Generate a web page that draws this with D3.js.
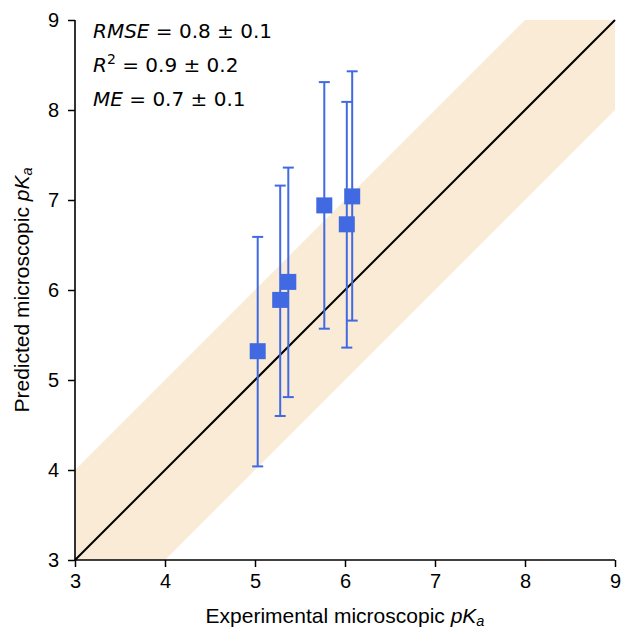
<!DOCTYPE html>
<html>
<head>
<meta charset="utf-8">
<script src="https://cdn.jsdelivr.net/npm/d3@7"></script>
<style>
body { margin: 0; background: #fff; }
</style>
</head>
<body>
<div id="chart"></div>
<script>
// experimental vs predicted microscopic pKa
var expPka = [5.03, 5.28, 5.37, 5.77, 6.02, 6.08];
var predPka = [5.32, 5.89, 6.09, 6.94, 6.73, 7.04];
var predUpper = [6.59, 7.16, 7.36, 8.31, 8.09, 8.43];
var predLower = [4.04, 4.60, 4.81, 5.57, 5.36, 5.66];
var ticks = [3, 4, 5, 6, 7, 8, 9];

var margin = {top: 20, right: 7, bottom: 68, left: 75},
    width = 622 - margin.left - margin.right,
    height = 628 - margin.top - margin.bottom;

var svg = d3.select("#chart")
  .append("svg")
  .attr("width", 622)
  .attr("height", 628)
  .append("g")
  .attr("transform", "translate(" + margin.left + "," + margin.top + ")");

var x = d3.scaleLinear().domain([3, 9]).range([0, width]);
var y = d3.scaleLinear().domain([3, 9]).range([height, 0]);

svg.append("clipPath").attr("id", "clip")
  .append("rect").attr("width", width).attr("height", height);

// +/- 1 band around the diagonal
var area = d3.area()
  .x(function(d) { return x(d); })
  .y0(function(d) { return y(d - 1); })
  .y1(function(d) { return y(d + 1); });

svg.append("path")
  .datum([2, 10])
  .attr("clip-path", "url(#clip)")
  .attr("d", area)
  .attr("fill", "#faebd7");

svg.append("line")
  .attr("x1", x(3)).attr("y1", y(3))
  .attr("x2", x(9)).attr("y2", y(9))
  .attr("stroke", "#000")
  .attr("stroke-width", 2);

var data = expPka.map(function(d, i) {
  return {x: d, y: predPka[i], hi: predUpper[i], lo: predLower[i]};
});

var blue = "#4169e1";
var bars = svg.append("g");
bars.selectAll(".err")
  .data(data).enter().append("line")
  .attr("x1", function(d) { return x(d.x); })
  .attr("x2", function(d) { return x(d.x); })
  .attr("y1", function(d) { return y(d.lo); })
  .attr("y2", function(d) { return y(d.hi); })
  .attr("stroke", blue).attr("stroke-width", 2);

["hi", "lo"].forEach(function(k) {
  bars.selectAll(".cap" + k)
    .data(data).enter().append("line")
    .attr("x1", function(d) { return x(d.x) - 5.5; })
    .attr("x2", function(d) { return x(d.x) + 5.5; })
    .attr("y1", function(d) { return y(d[k]); })
    .attr("y2", function(d) { return y(d[k]); })
    .attr("stroke", blue).attr("stroke-width", 2);
});

svg.selectAll(".pt")
  .data(data).enter().append("rect")
  .attr("x", function(d) { return x(d.x) - 8; })
  .attr("y", function(d) { return y(d.y) - 8; })
  .attr("width", 16).attr("height", 16)
  .attr("fill", blue);

var font = "Liberation Sans, Arial, sans-serif";

var xAxis = svg.append("g")
  .attr("transform", "translate(0," + height + ")")
  .call(d3.axisBottom(x).tickValues(ticks).tickSize(7).tickPadding(7).tickFormat(d3.format("d")));
var yAxis = svg.append("g")
  .call(d3.axisLeft(y).tickValues(ticks).tickSize(7).tickPadding(9).tickFormat(d3.format("d")));

[xAxis, yAxis].forEach(function(a) {
  a.selectAll("path").attr("stroke-width", 1.6).attr("d", a === xAxis ? "M0,0H" + width : "M0,0V" + height);
  a.selectAll("line").attr("stroke-width", 1.5);
  a.selectAll("text").attr("font-family", font)
    .attr("font-size", "20px").attr("fill", "#000");
});

function axisLabel(t, words) {
  t.attr("text-anchor", "middle")
    .attr("font-family", font)
    .attr("font-size", "21px");
  t.append("tspan").text(words);
  t.append("tspan").attr("font-style", "italic").text("pK");
  t.append("tspan").attr("font-style", "italic").attr("font-size", "14.5px").attr("dy", 3).text("a");
}

axisLabel(svg.append("text").attr("x", width / 2).attr("y", 603),
  "Experimental microscopic ");
axisLabel(svg.append("text").attr("transform", "translate(-46," + (height / 2) + ") rotate(-90)"),
  "Predicted microscopic ");

// stats box
var stats = [
  {name: "RMSE", sup: "", val: "0.8", err: "0.1"},
  {name: "R", sup: "2", val: "0.9", err: "0.2"},
  {name: "ME", sup: "", val: "0.7", err: "0.1"}
];
stats.forEach(function(s, i) {
  var t = svg.append("text")
    .attr("x", 18).attr("y", 18 + i * 34)
    .attr("font-family", "DejaVu Sans, sans-serif")
    .attr("font-size", "20px");
  t.append("tspan").attr("font-style", "italic").text(s.name);
  var rest = " = " + s.val + " \u00b1 " + s.err;
  if (s.sup) {
    t.append("tspan").attr("font-size", "14px").attr("dy", -8).text(s.sup);
    t.append("tspan").attr("dy", 8).text(rest);
  } else {
    t.append("tspan").text(rest);
  }
});
</script>
</body>
</html>
